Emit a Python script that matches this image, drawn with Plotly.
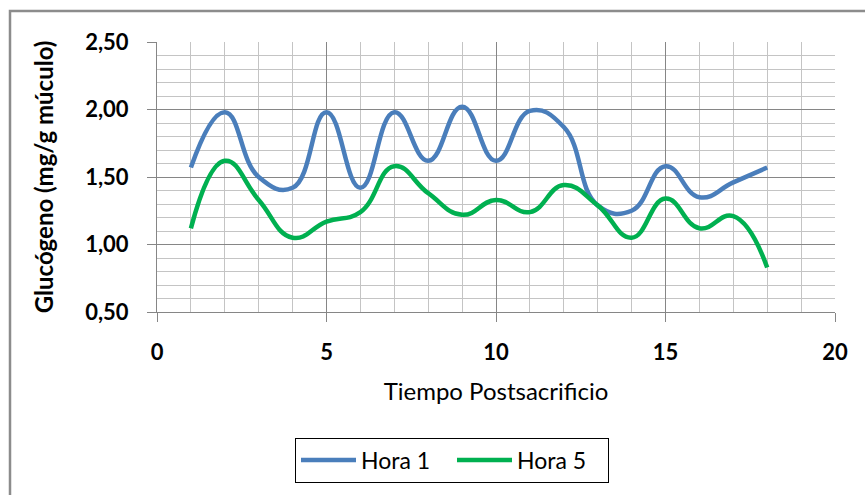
import plotly.graph_objects as go

# Tiempo postsacrificio (x) and glycogen content for each hour group
tiempo = list(range(1, 19))
hora_1 = [1.57, 1.98, 1.50, 1.42, 1.98, 1.42, 1.98, 1.62, 2.02, 1.62,
          1.99, 1.87, 1.29, 1.25, 1.58, 1.35, 1.46, 1.57]
hora_5 = [1.12, 1.62, 1.33, 1.05, 1.17, 1.24, 1.58, 1.38, 1.22, 1.33,
          1.24, 1.44, 1.29, 1.05, 1.34, 1.12, 1.21, 0.83]

series = [("Hora 1", hora_1, "#4A7EBB"), ("Hora 5", hora_5, "#00B050")]

FONT = "Lato"
W, H = 865, 495
ML, MR, MT, MB = 157, 30, 42, 183

fig = go.Figure()
for name, vals, color in series:
    fig.add_trace(go.Scatter(
        x=tiempo, y=vals, name=name, mode="lines",
        line=dict(color=color, width=4.5, shape="spline", smoothing=1.3),
    ))

pw = W - ML - MR
ph = H - MT - MB

def px_x(p):
    return (p - ML) / pw

def px_y(p):
    return (H - MB - p) / ph

major = "#868686"
minor = "#c4c4c4"

fig.update_layout(
    width=W, height=H,
    margin=dict(l=ML, r=MR, t=MT, b=MB, autoexpand=False),
    paper_bgcolor="white", plot_bgcolor="white",
    separators=",.",
    font=dict(family=FONT, color="#000000"),
    showlegend=True,
    legend=dict(
        orientation="h",
        x=px_x(452), y=px_y(460), xanchor="center", yanchor="middle",
        bordercolor="#000000", borderwidth=1,
        font=dict(family=FONT, size=23, color="#000000"),
        itemwidth=55, entrywidth=86,
    ),
    xaxis=dict(
        range=[0, 20], dtick=5, tick0=0,
        showgrid=True, gridcolor=major, gridwidth=1,
        minor=dict(dtick=1, showgrid=True, gridcolor=minor, gridwidth=1),
        showline=True, linecolor=major, linewidth=1,
        ticks="outside", ticklen=9, tickcolor=major,
        tickfont=dict(family=FONT, size=22, color="#000000", weight="bold"),
        ticklabelstandoff=12,
        zeroline=False,
        title=dict(text="Tiempo Postsacrificio", standoff=18,
                   font=dict(family=FONT, size=24, color="#000000")),
    ),
    yaxis=dict(
        range=[0.5, 2.5], dtick=0.5, tick0=0.5, tickformat=".2f",
        showgrid=True, gridcolor=major, gridwidth=1,
        minor=dict(dtick=0.1, showgrid=True, gridcolor=minor, gridwidth=1),
        showline=True, linecolor=major, linewidth=1,
        ticks="outside", ticklen=9, tickcolor=major,
        tickfont=dict(family=FONT, size=22, color="#000000", weight="bold"),
        ticklabelstandoff=14,
        zeroline=False,
        title=dict(text="Glucógeno (mg/g múculo)", standoff=24,
                   font=dict(family=FONT, size=24, color="#000000", weight="bold")),
    ),
    shapes=[dict(
        type="rect", xref="paper", yref="paper",
        x0=px_x(10), x1=px_x(W + 20), y0=px_y(H + 20), y1=px_y(11),
        line=dict(color="#8c8c8c", width=2.5), fillcolor="rgba(0,0,0,0)",
        layer="below",
    )],
)

fig.write_html("out.html")
